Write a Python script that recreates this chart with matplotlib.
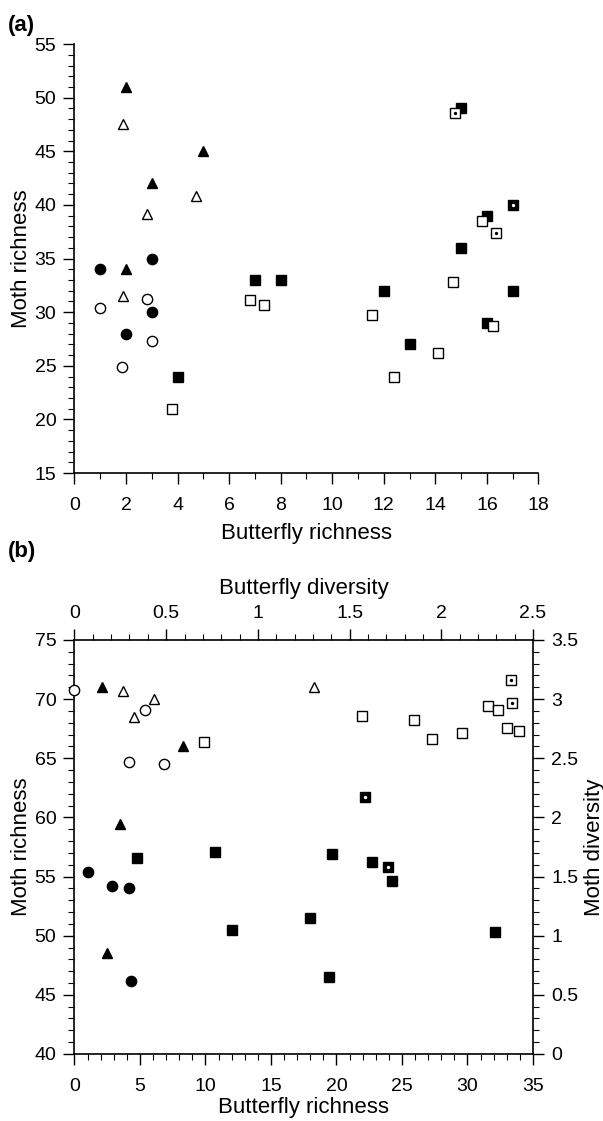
import numpy as np
import matplotlib.pyplot as plt
from matplotlib.ticker import MultipleLocator

plt.rcParams['font.family'] = ['Liberation Sans', 'DejaVu Sans']

# ---- panel (a): butterfly richness vs moth richness ----
a_fcirc_x = [1, 3, 3, 2]
a_fcirc_y = [34, 35, 30, 28]
a_ocirc_x = [1, 2.8, 3, 1.85]
a_ocirc_y = [30.4, 31.2, 27.3, 24.9]
a_ftri_x = [2, 5, 3, 2]
a_ftri_y = [51, 45, 42, 34]
a_otri_x = [1.9, 4.7, 2.8, 1.9]
a_otri_y = [47.5, 40.8, 39.2, 31.5]
a_fsq_x = [4, 7, 8, 12, 13, 15, 16, 16, 17, 15]
a_fsq_y = [24, 33, 33, 32, 27, 36, 39, 29, 32, 49]
a_fsqdot_x = [17]
a_fsqdot_y = [40]
a_osq_x = [3.8, 6.8, 7.35, 11.55, 12.4, 14.1, 14.7, 15.8, 16.25]
a_osq_y = [21, 31.1, 30.7, 29.7, 24, 26.2, 32.8, 38.5, 28.7]
a_osqdot_x = [14.75, 16.35]
a_osqdot_y = [48.6, 37.4]

# ---- panel (b): filled = richness (bottom/left), open = diversity (top/right) ----
b_fcirc_x = [1.05, 2.9, 4.15, 4.3]
b_fcirc_y = [55.4, 54.2, 54, 46.2]
b_ftri_x = [2.1, 8.3, 3.45, 2.5]
b_ftri_y = [71, 66, 59.4, 48.5]
b_fsq_x = [4.8, 10.7, 19.65, 18, 12, 19.4, 22.7, 24.2, 32.1]
b_fsq_y = [56.6, 57.1, 56.9, 51.5, 50.5, 46.5, 56.2, 54.6, 50.3]
b_fsqdot_x = [22.2, 23.9]
b_fsqdot_y = [61.7, 55.8]

b_ocirc_x = [0, 0.386, 0.296, 0.489]
b_ocirc_y = [3.08, 2.91, 2.47, 2.45]
b_otri_x = [0.264, 0.436, 0.325, 1.307]
b_otri_y = [3.07, 3.0, 2.85, 3.1]
b_osq_x = [0.707, 1.568, 1.85, 1.95, 2.114, 2.257, 2.307, 2.357, 2.425]
b_osq_y = [2.635, 2.86, 2.82, 2.66, 2.71, 2.94, 2.91, 2.76, 2.73]
b_osqdot_x = [2.379, 2.386]
b_osqdot_y = [3.16, 2.97]

TICK_FS = 14
LABEL_FS = 16


def pts(ax, x, y, marker, filled, dot=None, size=7.4):
    ax.plot(x, y, ls='none', marker=marker, ms=size,
            mfc='black' if filled else 'white', mec='black', mew=1.0,
            clip_on=False, zorder=3)
    if dot:
        ax.plot(x, y, ls='none', marker='o', ms=2.4, mfc=dot, mec=dot,
                mew=0, clip_on=False, zorder=4)


def style(ax):
    ax.tick_params(axis='both', which='major', direction='out', length=8,
                   width=1, labelsize=TICK_FS, pad=5)
    ax.tick_params(axis='both', which='minor', direction='out', length=4,
                   width=0.8)
    for s in ax.spines.values():
        s.set_linewidth(1.2)


fig = plt.figure(figsize=(6.03, 11.21), dpi=100)

# panel (a)
ax = fig.add_axes([0.1235, 0.578, 0.7695, 0.3827])
pts(ax, a_fsq_x, a_fsq_y, 's', True)
pts(ax, a_fsqdot_x, a_fsqdot_y, 's', True, dot='white')
pts(ax, a_fcirc_x, a_fcirc_y, 'o', True)
pts(ax, a_ftri_x, a_ftri_y, '^', True)
pts(ax, a_ocirc_x, a_ocirc_y, 'o', False)
pts(ax, a_otri_x, a_otri_y, '^', False)
pts(ax, a_osq_x, a_osq_y, 's', False)
pts(ax, a_osqdot_x, a_osqdot_y, 's', False, dot='black')
ax.set_xlim(0, 18)
ax.set_ylim(15, 55)
ax.xaxis.set_major_locator(MultipleLocator(2))
ax.xaxis.set_minor_locator(MultipleLocator(1))
ax.yaxis.set_major_locator(MultipleLocator(5))
ax.yaxis.set_minor_locator(MultipleLocator(1))
ax.spines['top'].set_visible(False)
ax.spines['right'].set_visible(False)
style(ax)
ax.tick_params(axis='x', which='major', pad=9)
ax.set_xlabel('Butterfly richness', fontsize=LABEL_FS, labelpad=7)
ax.set_ylabel('Moth richness', fontsize=LABEL_FS, labelpad=2)
fig.text(0.013, 0.977, '(a)', fontsize=16, fontweight='bold', va='center')

# panel (b)
axb = fig.add_axes([0.1235, 0.0598, 0.7604, 0.3693])
pts(axb, b_fsq_x, b_fsq_y, 's', True)
pts(axb, b_fsqdot_x, b_fsqdot_y, 's', True, dot='white')
pts(axb, b_fcirc_x, b_fcirc_y, 'o', True)
pts(axb, b_ftri_x, b_ftri_y, '^', True)
axb.set_xlim(0, 35)
axb.set_ylim(40, 75)
axb.xaxis.set_major_locator(MultipleLocator(5))
axb.xaxis.set_minor_locator(MultipleLocator(1))
axb.yaxis.set_major_locator(MultipleLocator(5))
axb.yaxis.set_minor_locator(MultipleLocator(1))
style(axb)
axb.tick_params(axis='x', which='major', pad=9)
axb.set_xlabel('Butterfly richness', fontsize=LABEL_FS, labelpad=2)
axb.set_ylabel('Moth richness', fontsize=LABEL_FS, labelpad=2)

axd = fig.add_axes(axb.get_position(), frameon=False)
axd.xaxis.tick_top()
axd.xaxis.set_label_position('top')
axd.yaxis.tick_right()
axd.yaxis.set_label_position('right')
pts(axd, b_ocirc_x, b_ocirc_y, 'o', False)
pts(axd, b_otri_x, b_otri_y, '^', False, size=6.5)
pts(axd, b_osq_x, b_osq_y, 's', False)
pts(axd, b_osqdot_x, b_osqdot_y, 's', False, dot='black')
axd.set_xlim(0, 2.5)
axd.set_ylim(0, 3.5)
axd.xaxis.set_major_locator(MultipleLocator(0.5))
axd.xaxis.set_minor_locator(MultipleLocator(0.1))
axd.yaxis.set_major_locator(MultipleLocator(0.5))
axd.yaxis.set_minor_locator(MultipleLocator(0.1))
axd.xaxis.set_major_formatter(plt.FuncFormatter(lambda v, p: f'{v:g}'))
axd.yaxis.set_major_formatter(plt.FuncFormatter(lambda v, p: f'{v:g}'))
style(axd)
axd.set_xlabel('Butterfly diversity', fontsize=LABEL_FS, labelpad=8)
axd.set_ylabel('Moth diversity', fontsize=LABEL_FS, labelpad=4)
fig.text(0.013, 0.508, '(b)', fontsize=16, fontweight='bold', va='center')

fig.savefig('out.png', dpi=100)
